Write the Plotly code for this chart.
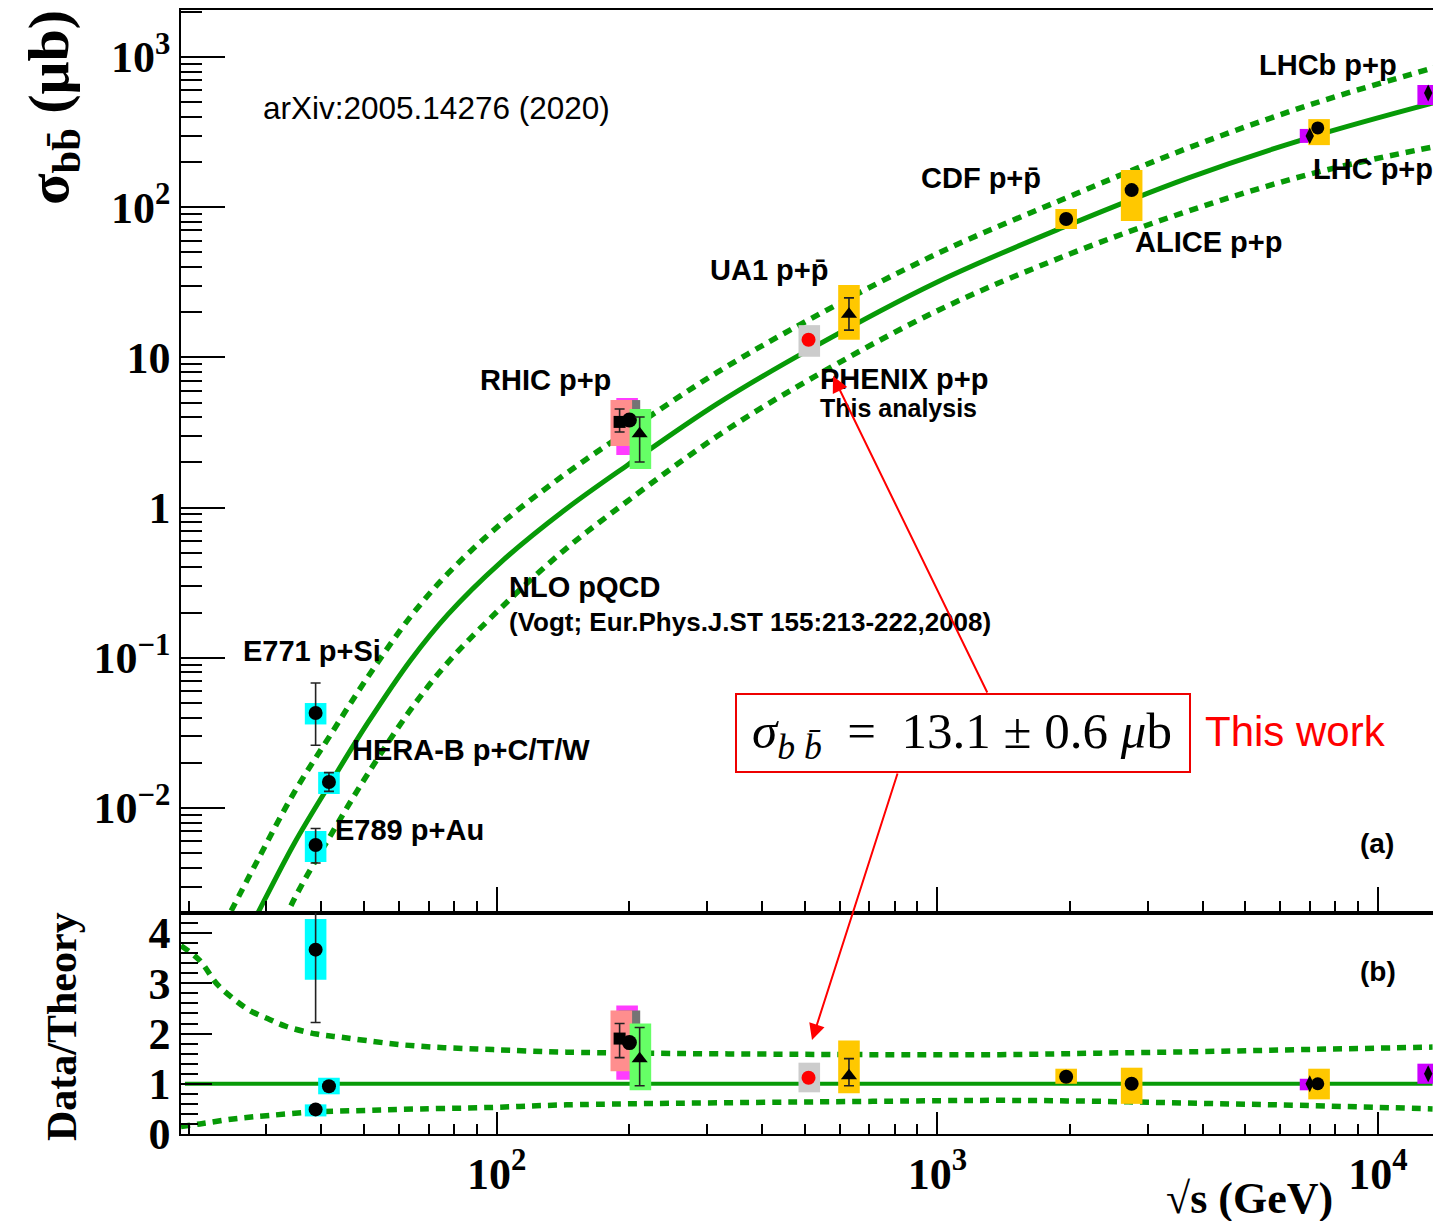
import math
import plotly.graph_objects as go

# ------------------------------------------------------------------ data
# NLO pQCD curves in the upper panel: sqrt(s) [GeV], sigma_bb [micro-barn]
theo_c_x = [26.3, 28.7, 34.7, 42.0, 50.9, 63.8, 77.4, 102.1, 141.9, 198.2, 316.2, 510.5, 1000, 1968, 3715, 7047, 13335, 15850]
theo_c_y = [0.00120, 0.00200, 0.00581, 0.01479, 0.0367, 0.0968, 0.194, 0.4325, 0.953, 1.923, 4.90, 11.22, 31.8, 75.2, 156.7, 293, 494, 562]
theo_u_x = [24.0, 28.7, 34.7, 42.0, 50.9, 63.8, 77.4, 102.1, 141.9, 198.2, 316.2, 510.5, 1000, 1968, 3715, 7047, 13335, 15850]
theo_u_y = [0.001656, 0.004529, 0.01271, 0.0309, 0.0741, 0.1888, 0.3631, 0.778, 1.644, 3.228, 7.943, 17.78, 49.1, 115.9, 248.3, 483.1, 845.3, 977]
theo_l_x = [28.7, 34.7, 42.0, 50.9, 63.8, 77.4, 102.1, 141.9, 198.2, 316.2, 510.5, 1000, 1968, 3715, 7047, 13335, 15850]
theo_l_y = [0.000726, 0.002477, 0.006607, 0.01679, 0.04529, 0.0929, 0.2143, 0.5176, 1.107, 2.985, 7.079, 20.46, 47.97, 94.4, 166.7, 251.8, 275.4]

# Data/Theory band in the lower panel
ratio_u_x = [19.2, 21.2, 23.1, 25.2, 27.5, 30.5, 33.3, 39.0, 44.0, 50.6, 60.2, 71.7, 85.3, 98.1, 144, 714, 1390, 2340, 3940, 6650, 13300]
ratio_u_y = [3.75, 3.45, 3.00, 2.70, 2.46, 2.28, 2.14, 1.99, 1.93, 1.86, 1.78, 1.73, 1.70, 1.68, 1.63, 1.58, 1.58, 1.61, 1.64, 1.68, 1.73]
ratio_l_x = [19.2, 21.2, 25.2, 30.5, 39.0, 50.6, 60.2, 98.1, 144, 714, 1390, 2340, 3940, 6650, 13300]
ratio_l_y = [0.15, 0.20, 0.30, 0.37, 0.44, 0.47, 0.49, 0.53, 0.58, 0.65, 0.67, 0.65, 0.61, 0.57, 0.50]
ratio_c_x = [19.6, 13300]
ratio_c_y = [1.0, 1.0]

# measured points: name, sqrt(s), sigma, stat-bar low/high (None = hidden)
pt_name = ["E771", "HERA-B", "E789", "RHIC-sq", "RHIC-circ", "RHIC-tri", "PHENIX",
           "UA1", "CDF", "ALICE", "LHC-circ", "LHC-dia", "LHCb"]
pt_x = [38.8, 41.6, 38.8, 190, 200, 211, 510, 630, 1960, 2760, 7300, 7000, 13000]
pt_y = [0.0429, 0.0149, 0.00567, 3.72, 3.83, 3.10, 13.1, 19.4, 83.4, 130, 337, 298, 576]
pt_lo = [0.0262, 0.0129, 0.0043, 3.19, None, 2.01, None, 15.2, None, None, None, None, None]
pt_hi = [0.068, 0.0172, 0.0073, 4.53, None, 4.01, None, 24.9, None, None, None, None, None]
# same points, ratio to theory
rt_y = [3.67, 0.95, 0.49, 1.90, 1.82, 1.50, 1.12, 1.16, 1.14, 1.00, 1.00, 1.00, 1.20]
rt_lo = [2.22, None, None, 1.52, None, 0.96, None, 0.96, None, None, None, None, None]
rt_hi = [5.00, None, None, 2.20, None, 2.12, None, 1.50, None, None, None, None, None]

# systematic boxes: kind, sqrt(s), low/high (upper panel), low/high (ratio panel)
box_kind = ["cyan", "cyan", "cyan", "magenta", "dgray", "pink", "green", "lgray",
            "gold", "gold", "gold", "violet", "gold", "violet"]
box_x = [38.8, 41.6, 38.8, 197.6, 200, 191.7, 211.8, 512, 630, 1960, 2760, 7030, 7350, 13000]
box_lo = [0.036, 0.0124, 0.00437, 2.24, 3.06, 2.57, 1.81, 10.1, 13.1, 71.6, 80.9, 268, 259, 479]
box_hi = [0.050, 0.0174, 0.00703, 5.36, 5.20, 5.20, 4.53, 16.4, 30.3, 97.3, 177, 332, 386, 651]
rbox_lo = [3.07, 0.79, 0.35, 1.08, 1.30, 1.25, 0.87, 0.83, 0.81, 1.00, 0.60, 0.87, 0.69, 1.00]
rbox_hi = [4.28, 1.12, 0.59, 2.56, 2.46, 2.46, 2.20, 1.42, 1.86, 1.30, 1.32, 1.10, 1.30, 1.40]

x_major = [100, 1000, 10000]
x_major_text = ["10<sup>2</sup>", "10<sup>3</sup>", "10<sup>4</sup>"]
y_major = [0.01, 0.1, 1, 10, 100, 1000]
y_major_text = ["10<sup>\u22122</sup>", "10<sup>\u22121</sup>", "1", "10", "10<sup>2</sup>", "10<sup>3</sup>"]
r_major = [0, 1, 2, 3, 4]
r_major_text = ["0", "1", "2", "3", "4"]

# ------------------------------------------------------------------ style
W, H = 1433, 1221
L, R, T, B = 181, 1433, 10, 1134
SPLIT = 913
GREEN = "#079a07"
BOX_COL = {"cyan": "#00ffff", "magenta": "#ff3cff", "pink": "#ff8e8e", "dgray": "#747474",
           "green": "#66ff66", "lgray": "#cccccc", "gold": "#ffc800", "violet": "#cc00ff"}
MARK = {"E771": ("circle", "black", 14), "HERA-B": ("circle", "black", 14), "E789": ("circle", "black", 14),
        "RHIC-sq": ("square", "black", 12), "RHIC-circ": ("circle", "black", 15),
        "RHIC-tri": ("triangle-up", "black", 14), "PHENIX": ("circle", "#ff0000", 14),
        "UA1": ("triangle-up", "black", 14), "CDF": ("circle", "black", 14), "ALICE": ("circle", "black", 14),
        "LHC-circ": ("circle", "black", 13), "LHC-dia": ("diamond-tall", "black", 12),
        "LHCb": ("diamond-tall", "black", 12)}
BOX_HALF = 0.0245   # half width of the systematic boxes in decades of sqrt(s)
SANS = "Liberation Sans"
SERIF = "Liberation Serif"


def P(x, y):
    return (x - L) / (R - L), (B - y) / (B - T)


fig = go.Figure()


def add_curves(xs, ys, dash, ax, ay):
    fig.add_trace(go.Scatter(x=xs, y=ys, mode="lines", xaxis=ax, yaxis=ay,
                             line=dict(color=GREEN, width=5 if dash == "solid" else 5.5,
                                       dash=dash, shape="spline", smoothing=1.0),
                             hoverinfo="skip", showlegend=False))


DASH = "9px,7px"
add_curves(theo_u_x, theo_u_y, DASH, "x", "y")
add_curves(theo_l_x, theo_l_y, DASH, "x", "y")
add_curves(theo_c_x, theo_c_y, "solid", "x", "y")
add_curves(ratio_u_x, ratio_u_y, DASH, "x2", "y2")
add_curves(ratio_l_x, ratio_l_y, DASH, "x2", "y2")
fig.add_trace(go.Scatter(x=ratio_c_x, y=ratio_c_y, mode="lines", xaxis="x2", yaxis="y2",
                         line=dict(color=GREEN, width=4), hoverinfo="skip", showlegend=False))

# systematic boxes
f = 10 ** BOX_HALF
for k, xc, lo, hi, rlo, rhi in zip(box_kind, box_x, box_lo, box_hi, rbox_lo, rbox_hi):
    for (a, b, ax, ay) in ((lo, hi, "x", "y"), (rlo, rhi, "x2", "y2")):
        fig.add_trace(go.Scatter(x=[xc / f, xc * f, xc * f, xc / f, xc / f], y=[a, a, b, b, a],
                                 mode="lines", fill="toself", fillcolor=BOX_COL[k],
                                 line=dict(width=0, color=BOX_COL[k]), xaxis=ax, yaxis=ay,
                                 hoverinfo="skip", showlegend=False))

# points with stat bars
for i, n in enumerate(pt_name):
    sym, col, size = MARK[n]
    for (yv, lo, hi, ax, ay) in ((pt_y[i], pt_lo[i], pt_hi[i], "x", "y"),
                                  (rt_y[i], rt_lo[i], rt_hi[i], "x2", "y2")):
        err = None
        if lo is not None:
            err = dict(type="data", symmetric=False, array=[hi - yv], arrayminus=[yv - lo],
                       color="#222222", thickness=1.6, width=5)
        fig.add_trace(go.Scatter(x=[pt_x[i]], y=[yv], mode="markers", xaxis=ax, yaxis=ay,
                                 marker=dict(symbol=sym, color=col, size=size, line=dict(width=0)),
                                 error_y=err, hoverinfo="skip", showlegend=False))

# ------------------------------------------------------------------ axes
x_minor = [m * 10 ** e for e in (1, 2, 3) for m in range(2, 10)]
y_minor = [m * 10 ** e for e in (-3, -2, -1, 0, 1, 2, 3) for m in range(2, 10)]
xr = [math.log10(19.2), 4 + 55 / 440.5]
yr = [math.log10(0.002), 3 + 47 / 150.2]
split_dom = (B - SPLIT) / (B - T)
tickfont = dict(family=SERIF, size=44, color="black", weight="bold")
common_x = dict(type="log", range=xr, showline=True, linecolor="black", linewidth=1.5, mirror=True,
                ticks="inside", tickvals=x_major, tickwidth=1.5, tickcolor="black", showgrid=False,
                zeroline=False)
fig.update_layout(
    width=W, height=H, margin=dict(l=L, r=W - R, t=T, b=H - B),
    paper_bgcolor="white", plot_bgcolor="white", showlegend=False, hovermode=False,
    xaxis=dict(**common_x, anchor="y", ticklen=26, showticklabels=False,
               minor=dict(ticks="inside", tickvals=x_minor, ticklen=12, tickwidth=1.5, tickcolor="black",
                          showgrid=False)),
    xaxis2=dict(**common_x, anchor="y2", ticklen=22, ticktext=x_major_text, tickfont=tickfont,
                ticklabelstandoff=0,
                minor=dict(ticks="inside", tickvals=x_minor, ticklen=10, tickwidth=1.5, tickcolor="black",
                           showgrid=False)),
    yaxis=dict(type="log", range=yr, domain=[split_dom, 1], anchor="x", showline=True, linecolor="black",
               linewidth=1.5, ticks="inside", tickvals=y_major, ticktext=y_major_text, ticklen=44,
               tickwidth=1.5, tickcolor="black", tickfont=tickfont, showgrid=False, zeroline=False,
               minor=dict(ticks="inside", tickvals=y_minor, ticklen=21, tickwidth=1.5, tickcolor="black",
                          showgrid=False)),
    yaxis2=dict(range=[0, 4.4], domain=[0, split_dom], anchor="x2", showline=True, linecolor="black",
                linewidth=1.5, ticks="inside", tickvals=r_major, ticktext=r_major_text, ticklen=31,
                tickwidth=1.5, tickcolor="black", tickfont=tickfont, showgrid=False, zeroline=False,
                minor=dict(ticks="inside", dtick=0.2, ticklen=17, tickwidth=1.5, tickcolor="black",
                           showgrid=False)),
)

# ------------------------------------------------------------------ texts
ann = []


def text(x, y, s, size=29, bold=True, color="black", family=SANS, xanchor="left", angle=0):
    px, py = P(x, y)
    ann.append(dict(x=px, y=py, xref="paper", yref="paper", text=s, showarrow=False,
                    xanchor=xanchor, yanchor="middle", textangle=angle,
                    font=dict(family=family, size=size, color=color,
                              weight="bold" if bold else "normal")))


text(261, 108, "arXiv:2005.14276 (2020)", size=31.5, bold=False)
text(1257, 65, "LHCb p+p")
text(1311, 169, "LHC p+p")
text(919, 178, "CDF p+p\u0304")
text(1133, 242, "ALICE p+p")
text(708, 270, "UA1 p+p\u0304")
text(478, 380, "RHIC p+p")
text(818, 379, "PHENIX p+p")
text(818, 408, "This analysis", size=25)
text(507, 587, "NLO pQCD")
text(507, 622, "(Vogt; Eur.Phys.J.ST 155:213-222,2008)", size=26)
text(241, 651, "E771 p+Si")
text(350, 750, "HERA-B p+C/T/W")
text(333, 830, "E789 p+Au")
text(1358, 843, "(a)", size=28)
text(1358, 971, "(b)", size=28)
text(1203, 731, "This work", size=42, bold=False, color="#ff0000")
text(962, 735, "<i>σ</i><sub><i>b b\u0304</i></sub>  =  13.1 ± 0.6 <i>μ</i>b", size=51, bold=False,
     family=SERIF, xanchor="center")
text(52, 108, "σ<sub>bb\u0304</sub> (μb)", size=58, family=SERIF, xanchor="center", angle=-90)
text(62, 1027, "Data/Theory", size=42, family=SERIF, xanchor="center", angle=-90)
text(1249, 1198, "√s (GeV)", size=44, family=SERIF, xanchor="center")


def arrow(hx, hy, tx, ty):
    px, py = P(hx, hy)
    ann.append(dict(x=px, y=py, xref="paper", yref="paper", text="", showarrow=True,
                    ax=tx - hx, ay=ty - hy, axref="pixel", ayref="pixel",
                    arrowhead=2, arrowsize=1.6, arrowwidth=2, arrowcolor="#ff0000", standoff=0))


arrow(833, 376, 988, 694)
arrow(812, 1040, 898, 772)
fig.update_layout(annotations=ann)

x0, y0 = P(736, 694)
x1, y1 = P(1190, 772)
fig.add_shape(type="rect", xref="paper", yref="paper", x0=x0, y0=y1, x1=x1, y1=y0,
              line=dict(color="#ee0000", width=2), fillcolor="white", layer="above")

fig.write_html("out.html")
